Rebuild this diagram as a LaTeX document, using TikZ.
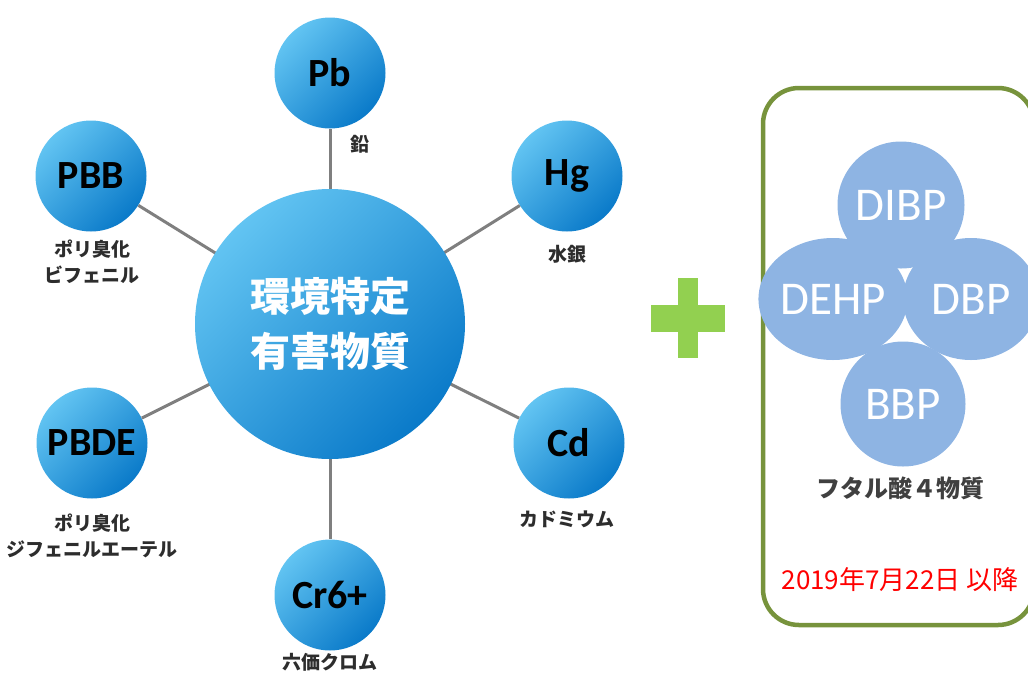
\documentclass[tikz,border=0pt]{standalone}
\usepackage{fontspec}
\newfontfamily\jpfont{Noto Sans CJK JP}
\newfontfamily\calfont{Carlito}
\usetikzlibrary{shapes.geometric}
\definecolor{ballA}{HTML}{62C4F2}
\definecolor{ballB}{HTML}{16A4E9}
\definecolor{ballC}{HTML}{0A7AC9}
\definecolor{conngray}{HTML}{7F7F7F}
\definecolor{plusgreen}{HTML}{92D050}
\definecolor{boxgreen}{HTML}{77933C}
\definecolor{petal}{HTML}{8EB4E3}
\definecolor{darktext}{HTML}{404040}
\begin{document}
\begin{tikzpicture}[x=1pt,y=-1pt,
  ball/.style={circle, inner sep=0pt, minimum size=111pt, shading=axis,
    top color=ballA, middle color=ballB, bottom color=ballC, shading angle=45,
    font=\calfont\bfseries\fontsize{40}{40}\selectfont, text=black},
  bigball/.style={ball, minimum size=270pt, text=white,
    font=\jpfont\bfseries\fontsize{40}{55}\selectfont, align=center},
  conn/.style={draw=conngray, line width=3pt},
  lbl/.style={font=\jpfont\bfseries\fontsize{19}{26}\selectfont, text=darktext!70!black, align=center, inner sep=0pt},
  petalshape/.style={fill=petal, inner sep=0pt, text=white, font=\calfont\fontsize{47}{47}\selectfont},
]
\useasboundingbox (0,0) rectangle (1028,673);

% connectors (behind)
\coordinate (cc) at (330,324);
\node[ball] (pb) at (330,73) {Pb};
\node[ball] (pbb) at (91,176) {PBB};
\node[ball] (hg) at (567,176) {Hg};
\node[ball] (pbde) at (92,443) {PBDE};
\node[ball] (cd) at (569,443) {Cd};
\node[ball] (cr) at (330,595) {Cr6+};
\foreach \t in {pb,pbb,hg,pbde,cd,cr} \draw[conn] (cc) -- (\t);
\node[bigball] (c) at (330,324) {環境特定\\有害物質};

% labels
\node[lbl] (lpb) at (360,144) {鉛};
\node[lbl] (lpbb) at (92,262) {ポリ臭化\\ビフェニル};
\node[lbl] (lhg) at (567,254) {水銀};
\node[lbl] (lpbde) at (92,536) {ポリ臭化\\ジフェニルエーテル};
\node[lbl] (lcd) at (567,519) {カドミウム};
\node[lbl] (lcr) at (330,662) {六価クロム};

% plus sign
\fill[plusgreen] (678,278) rectangle (698,358);
\fill[plusgreen] (651,305) rectangle (725,332);

% right box
\draw[boxgreen, line width=4.5pt, rounded corners=36pt] (763,88) rectangle (1034,625);

% phthalates
\node[petalshape, ellipse, minimum width=136pt, minimum height=122pt] (dehp) at (833,299) {DEHP};
\node[petalshape, ellipse, minimum width=136pt, minimum height=122pt] (dbp) at (971,299) {DBP};
\node[petalshape, circle, minimum size=127pt] (dibp) at (901,205) {DIBP};
\node[petalshape, circle, minimum size=125pt] (bbp) at (903,404) {BBP};
\node[font=\jpfont\bfseries\fontsize{24}{24}\selectfont, text=darktext, inner sep=0pt] (ft) at (900,488) {フタル酸４物質};
\node[font=\jpfont\fontsize{26}{26}\selectfont, text=red, inner sep=0pt] (date) at (900,580) {2019年7月22日 以降};
\end{tikzpicture}
\end{document}
